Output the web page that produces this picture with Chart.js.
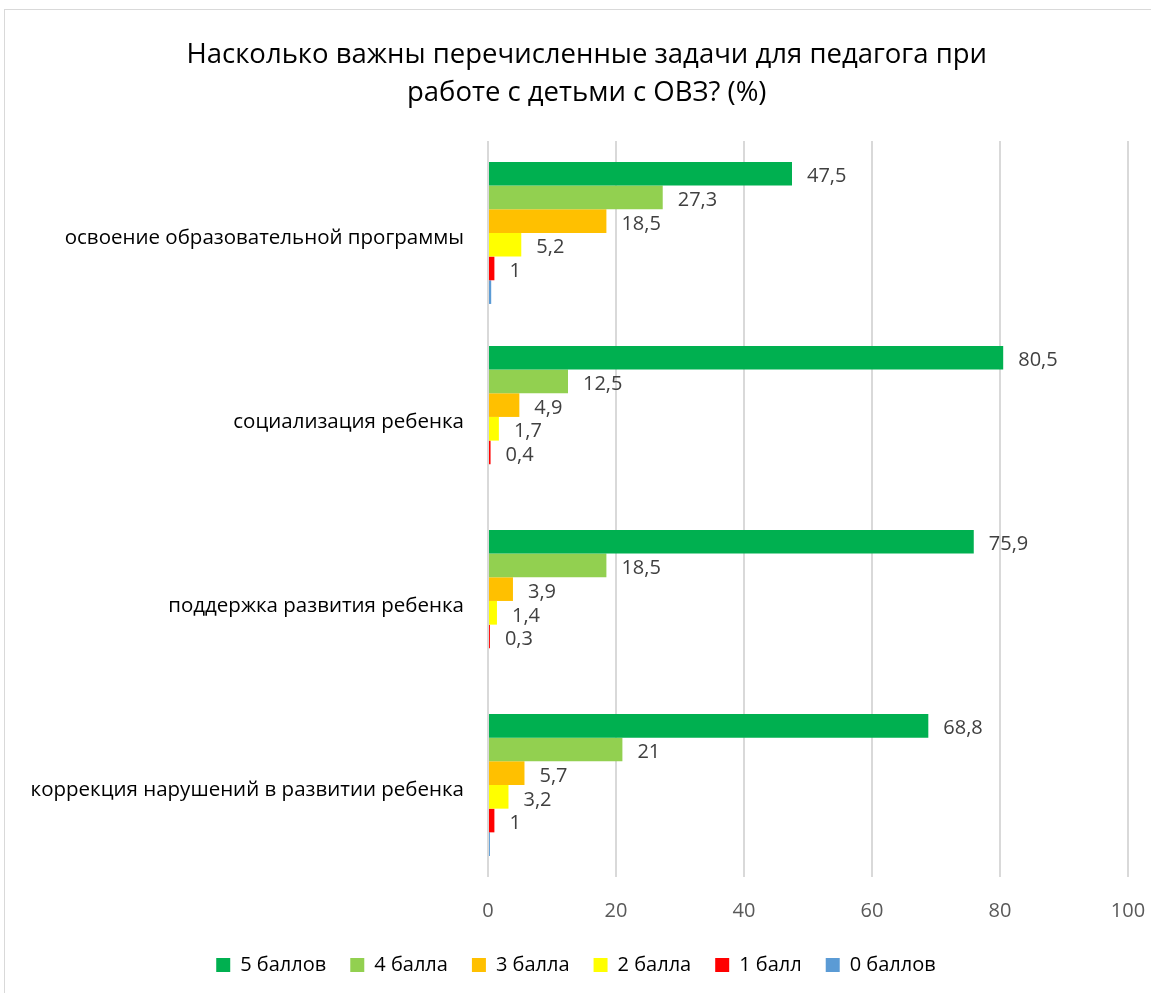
<!DOCTYPE html>
<html lang="ru">
<head>
<meta charset="UTF-8">
<title>Задачи педагога</title>
<script src="https://cdn.jsdelivr.net/npm/chart.js@4.4.0/dist/chart.umd.min.js"></script>
<style>
  body { margin: 0; background: #fff; }
  #wrap { position: relative; width: 1151px; height: 993px; }
  #frame { position: absolute; left: 4px; top: 9px; right: -2px; bottom: -2px; border: 1px solid #d9d9d9; pointer-events: none; }
</style>
</head>
<body>
<div id="wrap">
  <canvas id="chart" width="1151" height="993"></canvas>
  <div id="frame"></div>
</div>
<script>
// categories (top to bottom)
const categories = [
  'освоение образовательной программы',
  'социализация ребенка',
  'поддержка развития ребенка',
  'коррекция нарушений в развитии ребенка'
];
// series values, one per category
const ball5 = [47.5, 80.5, 75.9, 68.8];
const ball4 = [27.3, 12.5, 18.5, 21];
const ball3 = [18.5, 4.9, 3.9, 5.7];
const ball2 = [5.2, 1.7, 1.4, 3.2];
const ball1 = [1, 0.4, 0.3, 1];
const ball0 = [0.5, 0, 0, 0.3];
const seriesNames = ['5 баллов', '4 балла', '3 балла', '2 балла', '1 балл', '0 баллов'];
const xTicks = [0, 20, 40, 60, 80, 100];

const FONT = "'Open Sans', 'Noto Sans', sans-serif";
const colors = ['#00B050', '#92D050', '#FFC000', '#FFFF00', '#FF0000', '#5B9BD5'];
const values = [ball5, ball4, ball3, ball2, ball1, ball0];

// value labels drawn to the right of the bars (not for "0 баллов")
const barLabels = {
  id: 'barLabels',
  afterDatasetsDraw(chart) {
    const ctx = chart.ctx;
    ctx.save();
    ctx.font = '20px ' + FONT;
    ctx.fillStyle = '#404040';
    ctx.textAlign = 'left';
    ctx.textBaseline = 'middle';
    chart.data.datasets.forEach((ds, i) => {
      if (i === 5) return;
      chart.getDatasetMeta(i).data.forEach((bar, j) => {
        const v = ds.data[j];
        ctx.fillText(String(v).replace('.', ','), bar.x + 15, bar.y + 3);
      });
    });
    ctx.restore();
  }
};

// leading nbsp's nudge the centred title a bit to the right, like the original
const pad = '\u00A0\u00A0\u00A0';

const ctx = document.getElementById('chart').getContext('2d');
new Chart(ctx, {
  type: 'bar',
  data: {
    labels: categories,
    datasets: seriesNames.map((name, i) => ({
      label: name,
      data: values[i],
      backgroundColor: colors[i],
      borderWidth: 0,
      categoryPercentage: 0.772,
      barPercentage: 1
    }))
  },
  options: {
    indexAxis: 'y',
    responsive: false,
    animation: false,
    layout: { padding: { top: 9, left: 24, right: 23, bottom: 8 } },
    scales: {
      x: {
        min: 0, max: 100,
        afterBuildTicks: (s) => { s.ticks = xTicks.map(v => ({ value: v })); },
        afterFit: (s) => { s.height = 54; s.paddingLeft = 0; s.paddingRight = 0; },
        border: { display: false },
        grid: { color: '#d9d9d9', lineWidth: 2, drawTicks: false },
        ticks: { color: '#595959', font: { family: FONT, size: 20 }, padding: 22 }
      },
      y: {
        afterFit: (s) => { s.width = 464; },
        border: { display: false },
        grid: { display: false, drawTicks: false },
        ticks: { color: '#000', font: { family: FONT, size: 20.5 }, padding: 24, labelOffset: 5 }
      }
    },
    plugins: {
      title: {
        display: true,
        text: [pad + 'Насколько важны перечисленные задачи для педагога при', pad + 'работе с детьми с ОВЗ? (%)'],
        color: '#000',
        font: { family: FONT, size: 27.5, weight: 'normal', lineHeight: 1.38 },
        padding: { top: 27, bottom: 29 }
      },
      legend: {
        position: 'bottom',
        labels: {
          color: '#000',
          font: { family: FONT, size: 20 },
          boxWidth: 14, boxHeight: 14,
          padding: 24
        }
      },
      tooltip: { enabled: false }
    }
  },
  plugins: [barLabels]
});
</script>
</body>
</html>
